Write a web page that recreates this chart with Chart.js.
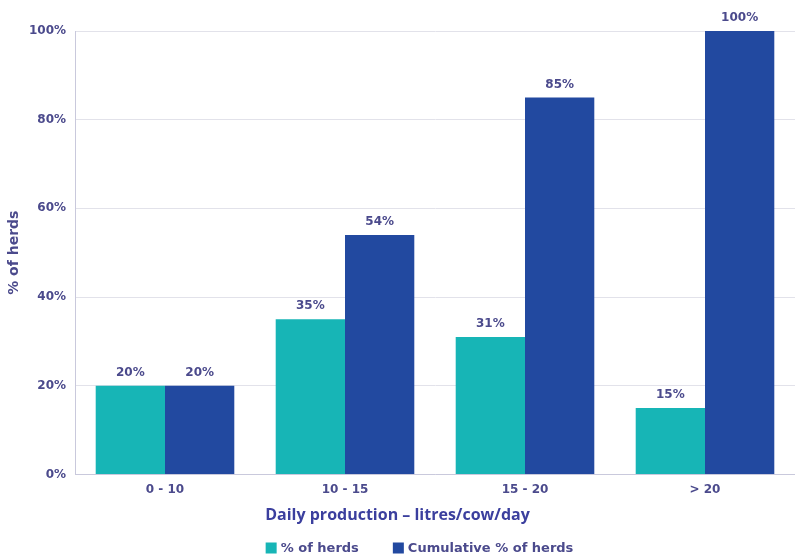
<!DOCTYPE html>
<html lang="en">
<head>
<meta charset="UTF-8">
<title>Daily production – litres/cow/day</title>
<script src="https://cdn.jsdelivr.net/npm/chart.js"></script>
<style>
    html, body { margin: 0; padding: 0; background: #ffffff; }
    #wrap { width: 795px; height: 560px; position: relative; }
</style>
</head>
<body>
<div id="wrap"><canvas id="chart"></canvas></div>
<script>
    const categories = ['0 - 10', '10 - 15', '15 - 20', '> 20'];
    const herdsPct = [20, 35, 31, 15];
    const cumulativePct = [20, 54, 85, 100];
    const yTicks = [0, 20, 40, 60, 80, 100];

    const labelColor = '#4b4a8c';
    const labelFont = '"DejaVu Sans", Verdana, sans-serif';

    // print each bar's value just above it
    const valueLabels = {
        id: 'valueLabels',
        afterDatasetsDraw(chart) {
            const ctx = chart.ctx;
            ctx.save();
            ctx.font = 'bold 12px ' + labelFont;
            ctx.fillStyle = labelColor;
            ctx.textAlign = 'center';
            ctx.textBaseline = 'bottom';
            chart.data.datasets.forEach((ds, i) => {
                chart.getDatasetMeta(i).data.forEach((bar, j) => {
                    ctx.fillText(ds.data[j] + '%', bar.x, bar.y - 7);
                });
            });
            ctx.restore();
        }
    };

    // legend row at the bottom, with a wide gap between the two entries
    const bottomLegend = {
        id: 'bottomLegend',
        afterDraw(chart) {
            const ctx = chart.ctx;
            const box = 11, gapText = 4, gapItem = 34;
            const y = chart.height - 12;
            ctx.save();
            ctx.font = 'bold 13px ' + labelFont;
            const items = chart.data.datasets.map(ds => ({
                text: ds.label, color: ds.backgroundColor, w: ctx.measureText(ds.label).width
            }));
            const total = items.reduce((s, it) => s + box + gapText + it.w, 0) + gapItem * (items.length - 1);
            let x = (chart.width - total) / 2 + 22;
            ctx.textBaseline = 'middle';
            ctx.textAlign = 'left';
            items.forEach(it => {
                ctx.fillStyle = it.color;
                ctx.fillRect(x, y - box / 2, box, box);
                x += box + gapText;
                ctx.fillStyle = labelColor;
                ctx.fillText(it.text, x, y + 1);
                x += it.w + gapItem;
            });
            ctx.restore();
        }
    };

    new Chart(document.getElementById('chart'), {
        type: 'bar',
        data: {
            labels: categories,
            datasets: [
                {
                    label: '% of herds',
                    data: herdsPct,
                    backgroundColor: '#17b5b6'
                },
                {
                    label: 'Cumulative % of herds',
                    data: cumulativePct,
                    backgroundColor: '#2249a0'
                }
            ]
        },
        options: {
            responsive: true,
            maintainAspectRatio: false,
            animation: false,
            layout: { padding: { top: 31, right: 0, left: 0, bottom: 24 } },
            datasets: {
                bar: { categoryPercentage: 0.77, barPercentage: 1.0 }
            },
            plugins: {
                legend: { display: false },
                tooltip: { enabled: false },
                title: {
                    display: true,
                    position: 'bottom',
                    text: 'Daily production – litres/cow/day',
                    color: '#3b3f9e',
                    font: { family: '"Open Sans", "Noto Sans", sans-serif', size: 16, weight: 'bold' },
                    padding: { top: 9, bottom: 11 }
                }
            },
            scales: {
                x: {
                    grid: { display: false },
                    border: { color: '#c9c9dc' },
                    ticks: {
                        color: labelColor,
                        font: { family: labelFont, size: 12, weight: 'bold' },
                        padding: 0
                    }
                },
                y: {
                    min: 0,
                    max: 100,
                    afterBuildTicks(scale) {
                        scale.ticks = yTicks.map(v => ({ value: v }));
                    },
                    afterFit(scale) { scale.width = 75; },
                    grid: { color: '#e2e2ea', drawTicks: false },
                    border: { color: '#c9c9dc' },
                    ticks: {
                        color: labelColor,
                        font: { family: labelFont, size: 12, weight: 'bold' },
                        padding: 9,
                        callback: v => v + '%'
                    },
                    title: {
                        display: true,
                        text: '% of herds',
                        color: labelColor,
                        font: { family: labelFont, size: 14, weight: 'bold' },
                        padding: { top: 6, bottom: 0 }
                    }
                }
            }
        },
        plugins: [valueLabels, bottomLegend]
    });
</script>
</body>
</html>
